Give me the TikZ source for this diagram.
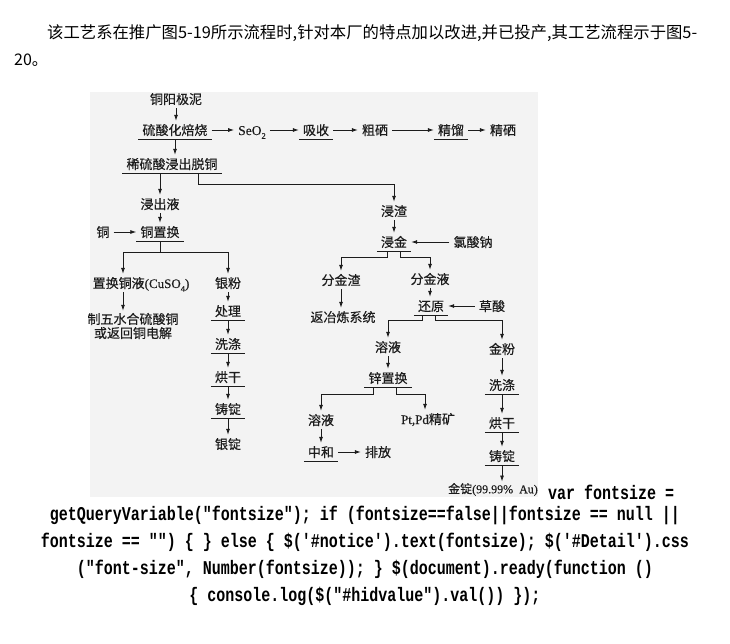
\documentclass[tikz,border=0pt]{standalone}
\usepackage{fontspec}
\setmainfont{Liberation Serif}
\setmonofont{Liberation Mono}
\newfontfamily\cjk{Noto Sans CJK SC}
\newfontfamily\cjkd[FakeBold=0.35]{Noto Sans CJK SC}
\newfontfamily\latd[FakeBold=0.3]{Liberation Serif}
\usetikzlibrary{arrows.meta}
\definecolor{photobg}{HTML}{F3F3F3}
\definecolor{ink}{HTML}{1C1C1C}
\newcommand{\chemsub}[1]{\raisebox{-0.28em}{\fontsize{8.5}{9}\selectfont #1}}
\newcommand{\lat}[1]{{\latd #1}}
\begin{document}
\begin{tikzpicture}[x=1pt,y=-1pt,
  txt/.style={font=\fontsize{13}{15}\selectfont\cjkd, inner xsep=4pt, inner ysep=3pt,
              text height=11pt, text depth=1pt, text=ink},
  proc/.style={txt},
  arr/.style={-{Latex[length=6pt,width=4pt]}, line width=0.8pt, draw=ink},
  ln/.style={line width=0.8pt, draw=ink},
  uline/.style={line width=0.8pt, draw=ink},
  para/.style={font=\fontsize{16}{16}\selectfont\cjk, inner sep=0pt, anchor=west, text=black},
  code/.style={font=\fontsize{15}{18}\selectfont\ttfamily\bfseries, inner sep=0pt, text=black}
]
\useasboundingbox (0,0) rectangle (730,644);
\fill[white] (0,0) rectangle (730,644);
% photo background
\fill[photobg] (90,92) rectangle (538,497);

% paragraph above
\node[para] (p1) at (47,33) {\resizebox{650pt}{!}{该工艺系在推广图5-19所示流程时,针对本厂的特点加以改进,并已投产,其工艺流程示于图5-}};
\node[para] (p2) at (14,60) {20。};

% top chain
\node[txt]  (mud)     at (176,99)  {铜阳极泥};
\node[proc] (roast)   at (175,130) {硫酸化焙烧};
\node[txt, font=\fontsize{13.5}{15}\selectfont\latd] (seo2) at (252,130) {SeO\chemsub{2}};
\node[proc] (absorb)  at (316,130) {吸收};
\node[txt]  (crude)   at (375,130) {粗硒};
\node[proc] (distill) at (451,130) {精馏};
\node[txt]  (pure)    at (503,130) {精硒};
\node[proc] (leach)   at (172,164) {稀硫酸浸出脱铜};

% left branch
\node[txt]  (liquor)  at (160,204) {浸出液};
\node[proc] (cuRep)   at (160,232) {铜置换};
\node[txt]  (cu)      at (103,232) {铜};
\node[txt]  (cuso4)   at (141,283) {置换铜液\lat{(CuSO\chemsub{4})}};
\node[font=\fontsize{13}{14}\selectfont\cjkd, text=ink, align=center, inner sep=2pt] (cuuse) at (133,326) {制五水合硫酸铜\\或返回铜电解};
\node[txt]  (agpow)   at (228,283) {银粉};
\node[proc] (treat)   at (228,311) {处理};
\node[proc] (wash1)   at (228,344) {洗涤};
\node[proc] (dry1)    at (228,377) {烘干};
\node[proc] (cast1)   at (228,409) {铸锭};
\node[txt]  (agingot) at (228,444) {银锭};

% right branch
\node[txt]  (slag)    at (394,211) {浸渣};
\node[proc] (auLeach) at (394,242) {浸金};
\node[txt]  (naclo)   at (473,242) {氯酸钠};
\node[txt]  (auRes)   at (341,280) {分金渣};
\node[txt]  (ret)     at (343,317) {返冶炼系统};
\node[txt]  (auSol)   at (430,279) {分金液};
\node[proc] (reduce)  at (431,306) {还原};
\node[txt]  (oxalic)  at (492,306) {草酸};
\node[txt]  (sol1)    at (388,347) {溶液};
\node[proc] (znRep)   at (388,378) {锌置换};
\node[txt]  (sol2)    at (321,420) {溶液};
\node[txt]  (ptpd)    at (428,419) {\lat{Pt,Pd}精矿};
\node[proc] (neutral) at (321,452) {中和};
\node[txt]  (disch)   at (378,452) {排放};
\node[txt]  (aupow)   at (502,349) {金粉};
\node[proc] (wash2)   at (502,385) {洗涤};
\node[proc] (dry2)    at (502,423) {烘干};
\node[proc] (cast2)   at (502,456) {铸锭};
\node[txt, font=\fontsize{12}{14}\selectfont\cjkd, text height=9.5pt, inner ysep=2pt] (auingot) at (493,489) {金锭\lat{(99.99\%\ \ Au)}};

% underlines of process steps
\foreach \n in {roast,leach,cuRep,absorb,distill,treat,wash1,dry1,cast1,auLeach,reduce,znRep,neutral,wash2,dry2,cast2}
  \draw[uline] (\n.south west) -- (\n.south east);

% connectors: top
\draw[arr] (mud) -- (mud |- roast.north);
\draw[arr] (roast.east) -- (seo2.west);
\draw[arr] (seo2.east) -- (absorb.west);
\draw[arr] (absorb.east) -- (crude.west);
\draw[arr] (crude.east) -- (distill.west);
\draw[arr] (distill.east) -- (pure.west);
\draw[arr] (roast.south) -- (roast.south |- leach.north);

% from leach
\draw[arr] (liquor.north |- leach.south) -- (liquor.north);
\draw[arr] ([xshift=26pt]leach.south) -- ++(0,11) -| (slag.north);

% copper branch
\draw[arr] (liquor.south) -- (cuRep.north);
\draw[arr] (cu.east) -- (cuRep.west);
\coordinate (cuJ) at ([yshift=-11pt]cuRep.south);
\draw[ln] (cuRep.south) -- (cuJ);
\draw[arr] (cuJ) -| ([xshift=-18pt]cuso4.north);
\draw[arr] (cuJ) -| (agpow.north);
\draw[arr] ([xshift=-18pt]cuso4.south) -- ([xshift=-18pt]cuso4.south |- cuuse.north);
\draw[arr] (agpow.south) -- (treat.north);
\draw[arr] (treat.south) -- (wash1.north);
\draw[arr] (wash1.south) -- (dry1.north);
\draw[arr] (dry1.south) -- (cast1.north);
\draw[arr] (cast1.south) -- (agingot.north);

% gold branch
\draw[arr] (slag.south) -- (auLeach.north);
\draw[arr] (naclo.west) -- (auLeach.east);
\draw[arr] ([xshift=-7pt]auLeach.south) -- ++(0,6) -| (auRes.north);
\draw[arr] ([xshift=6pt]auLeach.south) -- ++(0,6) -| (auSol.north);
\draw[arr] (auRes.south) -- (auRes.south |- ret.north);
\draw[arr] (auSol.south) -- (auSol.south |- reduce.north);
\draw[arr] (oxalic.west) -- (reduce.east);
\draw[arr] ([xshift=-9pt]reduce.south) -- ++(0,5) -| (sol1.north);
\draw[arr] ([xshift=4pt]reduce.south) -- ++(0,5) -| (aupow.north);
\draw[arr] (sol1.south) -- (znRep.north);
\draw[arr] ([xshift=-15pt]znRep.south) -- ++(0,7) -| (sol2.north);
\draw[arr] ([xshift=8pt]znRep.south) -- ++(0,7) -| ([xshift=-3pt]ptpd.north);
\draw[arr] (sol2.south) -- (neutral.north);
\draw[arr] (neutral.east) -- (disch.west);
\draw[arr] (aupow.south) -- (wash2.north);
\draw[arr] (wash2.south) -- (dry2.north);
\draw[arr] (dry2.south) -- (cast2.north);
\draw[arr] (cast2.south) -- (cast2.south |- auingot.north);

% trailing script text
\node[code, anchor=west] (c1) at (548,492) {\scalebox{1}[1.3]{var fontsize =}};
\node[code] (c2) at (365,515) {\scalebox{1}[1.3]{getQueryVariable("fontsize"); if (fontsize==false||fontsize == null ||}};
\node[code] (c3) at (365,542) {\scalebox{1}[1.3]{fontsize == "") \{ \} else \{ \$('\#notice').text(fontsize); \$('\#Detail').css}};
\node[code] (c4) at (365,569) {\scalebox{1}[1.3]{("font-size", Number(fontsize)); \} \$(document).ready(function ()}};
\node[code] (c5) at (365,596) {\scalebox{1}[1.3]{\{ console.log(\$("\#hidvalue").val()) \});}};
\end{tikzpicture}
\end{document}
